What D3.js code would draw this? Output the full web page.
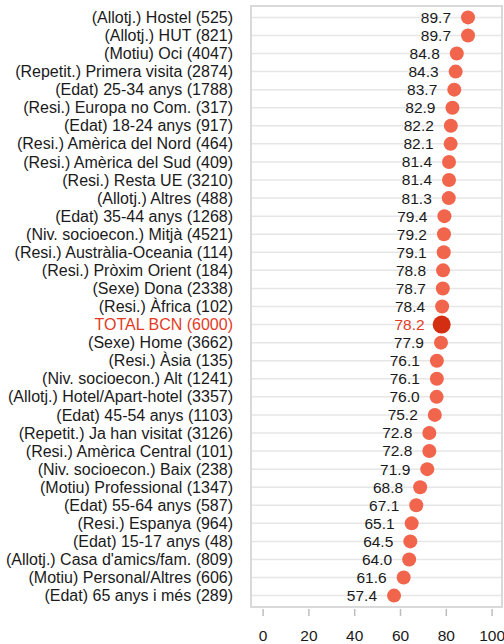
<!DOCTYPE html>
<html>
<head>
<meta charset="utf-8">
<script src="https://d3js.org/d3.v7.min.js"></script>
<style>
  body { margin: 0; background: #fff; }
  text { font-family: "Liberation Sans", Arial, sans-serif; }
</style>
</head>
<body>
<script>
// satisfaction by group, sorted high -> low
var labels = [
  "(Allotj.) Hostel (525)",
  "(Allotj.) HUT (821)",
  "(Motiu) Oci (4047)",
  "(Repetit.) Primera visita (2874)",
  "(Edat) 25-34 anys (1788)",
  "(Resi.) Europa no Com. (317)",
  "(Edat) 18-24 anys (917)",
  "(Resi.) Amèrica del Nord (464)",
  "(Resi.) Amèrica del Sud (409)",
  "(Resi.) Resta UE (3210)",
  "(Allotj.) Altres (488)",
  "(Edat) 35-44 anys (1268)",
  "(Niv. socioecon.) Mitjà (4521)",
  "(Resi.) Austràlia-Oceania (114)",
  "(Resi.) Pròxim Orient (184)",
  "(Sexe) Dona (2338)",
  "(Resi.) Àfrica (102)",
  "TOTAL BCN (6000)",
  "(Sexe) Home (3662)",
  "(Resi.) Àsia (135)",
  "(Niv. socioecon.) Alt (1241)",
  "(Allotj.) Hotel/Apart-hotel (3357)",
  "(Edat) 45-54 anys (1103)",
  "(Repetit.) Ja han visitat (3126)",
  "(Resi.) Amèrica Central (101)",
  "(Niv. socioecon.) Baix (238)",
  "(Motiu) Professional (1347)",
  "(Edat) 55-64 anys (587)",
  "(Resi.) Espanya (964)",
  "(Edat) 15-17 anys (48)",
  "(Allotj.) Casa d'amics/fam. (809)",
  "(Motiu) Personal/Altres (606)",
  "(Edat) 65 anys i més (289)"
];
var values = [
  89.7, 89.7, 84.8, 84.3, 83.7, 82.9, 82.2, 82.1, 81.4, 81.4, 81.3,
  79.4, 79.2, 79.1, 78.8, 78.7, 78.4, 78.2, 77.9, 76.1, 76.1, 76.0,
  75.2, 72.8, 72.8, 71.9, 68.8, 67.1, 65.1, 64.5, 64.0, 61.6, 57.4
];
var xTicks = [0, 20, 40, 60, 80, 100];
var totalLabel = "TOTAL BCN (6000)";

var data = labels.map(function (l, i) { return { label: l, value: values[i] }; });

var W = 504, H = 644;
var panel = { left: 251, top: 6, right: 502, bottom: 607 };

var svg = d3.select("body").append("svg")
  .attr("width", W)
  .attr("height", H);

var x = d3.scaleLinear()
  .domain([0, 100])
  .range([262.6, 491.6]);

var y = d3.scalePoint()
  .domain(labels)
  .range([panel.top, panel.bottom])
  .padding(0.63);

// grid lines through each row
svg.append("g").selectAll("line")
  .data(data)
  .enter().append("line")
    .attr("x1", panel.left)
    .attr("x2", panel.right)
    .attr("y1", d => y(d.label))
    .attr("y2", d => y(d.label))
    .attr("stroke", "#e6e6e6")
    .attr("stroke-width", 1.5);

svg.append("rect")
  .attr("x", panel.left)
  .attr("y", panel.top)
  .attr("width", panel.right - panel.left)
  .attr("height", panel.bottom - panel.top)
  .attr("fill", "none")
  .attr("stroke", "#d9d9d9")
  .attr("stroke-width", 2);

// category labels
svg.append("g").selectAll("text")
  .data(data)
  .enter().append("text")
    .attr("x", 233)
    .attr("y", d => y(d.label))
    .attr("dy", "0.35em")
    .attr("text-anchor", "end")
    .style("font-size", "16px")
    .style("fill", d => d.label == totalLabel ? "#e23b26" : "#1a1a1a")
    .text(d => d.label);

// dots
svg.append("g").selectAll("circle")
  .data(data)
  .enter().append("circle")
    .attr("cx", d => x(d.value))
    .attr("cy", d => y(d.label))
    .attr("r", d => d.label == totalLabel ? 9 : 7)
    .attr("fill", d => d.label == totalLabel ? "#d42e12" : "#f1654c");

// value labels
svg.append("g").selectAll("text")
  .data(data)
  .enter().append("text")
    .attr("x", d => x(d.value) - 17)
    .attr("y", d => y(d.label))
    .attr("dy", "0.35em")
    .attr("text-anchor", "end")
    .style("font-size", "15.5px")
    .style("fill", d => d.label == totalLabel ? "#e23b26" : "#1a1a1a")
    .text(d => d3.format(".1f")(d.value));

// bottom axis
var axis = svg.append("g")
  .attr("transform", "translate(0," + (panel.bottom + 2) + ")")
  .call(d3.axisBottom(x).tickValues(xTicks).tickSize(7).tickPadding(14));
axis.select(".domain").remove();
axis.selectAll(".tick line")
  .attr("stroke", "#bdbdbd")
  .attr("stroke-width", 1.5);
axis.selectAll(".tick text")
  .style("font-size", "15.5px")
  .style("font-family", "Liberation Sans, Arial, sans-serif")
  .attr("fill", "#1a1a1a");
</script>
</body>
</html>
